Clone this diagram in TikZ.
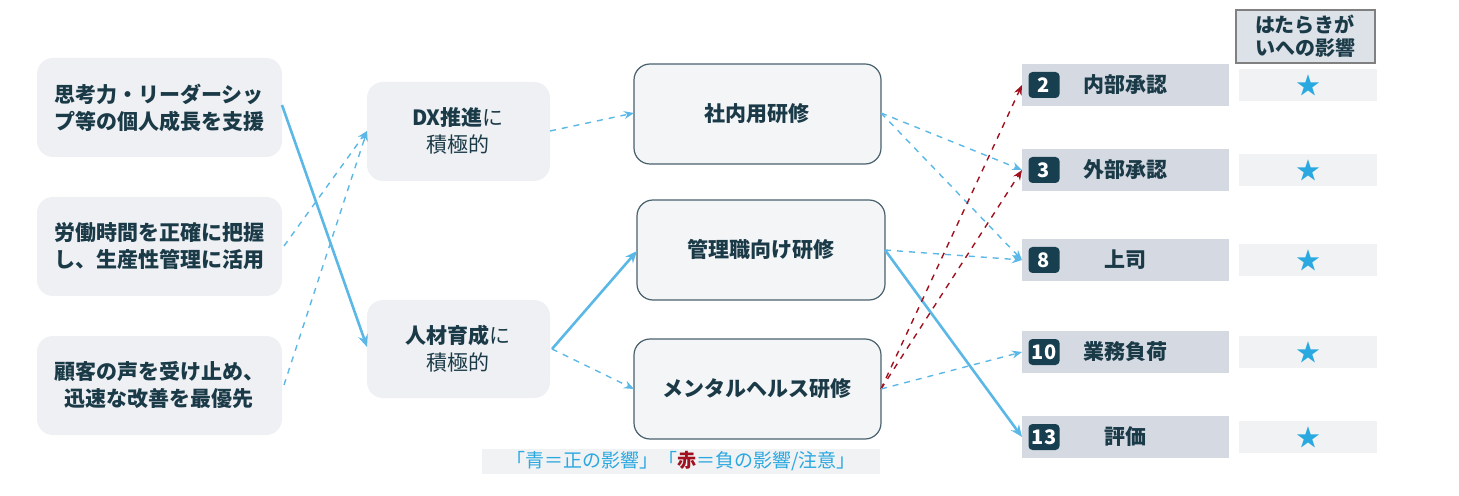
\documentclass[tikz,border=0pt]{standalone}
\usepackage{fontspec}
\setmainfont{Noto Sans CJK JP}
\usetikzlibrary{arrows.meta}
\definecolor{txt}{HTML}{1B3A48}
\definecolor{lbox}{HTML}{EEF0F3}
\definecolor{tbox}{HTML}{F4F5F7}
\definecolor{bar}{HTML}{D5DAE2}
\definecolor{badge}{HTML}{173F50}
\definecolor{sbox}{HTML}{F0F2F4}
\definecolor{blu}{HTML}{5BB8E6}
\definecolor{star}{HTML}{2AA8E0}
\definecolor{rd}{HTML}{A0101E}
\begin{document}
\begin{tikzpicture}[x=0.5pt,y=-0.5pt,
  lb/.style={fill=lbox,rounded corners=8pt,inner sep=0},
  tb/.style={fill=tbox,draw=txt!80,line width=0.6pt,rounded corners=8pt,inner sep=0},
  t/.style={text=txt,font=\bfseries\fontsize{10.5}{13.5}\selectfont,align=center},
  posarr/.style={draw=blu,line width=1.3pt,-{Stealth[length=6pt,width=5pt]}},
  posd/.style={draw=blu,line width=0.7pt,dashed,-{Stealth[length=5pt,width=4pt]}},
  neg/.style={draw=rd,line width=0.7pt,dashed,-{Stealth[length=5pt,width=4pt]}},
  barS/.style={fill=bar,inner sep=0},
  bdg/.style={fill=badge,rounded corners=2pt,text=white,font=\bfseries\fontsize{10}{12}\selectfont,inner sep=0,minimum height=13pt,minimum width=15.5pt},
  stb/.style={fill=sbox,inner sep=0}]
\useasboundingbox (0,0) rectangle (1459,496);
% left boxes
\path[lb] (37,58) rectangle (282,157); \node[t] (a1) at (159,108) {思考力・リーダーシッ\\プ等の個人成長を支援};
\path[lb] (37,197) rectangle (282,296); \node[t] (a2) at (159,246) {労働時間を正確に把握\\し、生産性管理に活用};
\path[lb] (37,336) rectangle (282,435); \node[t] (a3) at (159,385) {顧客の声を受け止め、\\迅速な改善を最優先};
\coordinate (a1r) at (282,105); \coordinate (a2r) at (284,246); \coordinate (a3r) at (284,385);
% mid
\path[lb] (367,82) rectangle (550,181); \node[t,font=\fontsize{10.5}{13.5}\selectfont] (b1) at (458,131) {\textbf{DX推進}に\\積極的};
\path[lb] (367,300) rectangle (550,398); \node[t,font=\fontsize{10.5}{13.5}\selectfont] (b2) at (458,349) {\textbf{人材育成}に\\積極的};
\coordinate (b1l) at (367,131); \coordinate (b1r) at (550,131);
\coordinate (b2l) at (367,347); \coordinate (b2r) at (552,349);
% trainings
\path[tb] (634,64) rectangle (881,164); \node[t] (c1) at (757,114) {社内用研修};
\path[tb] (637,200) rectangle (885,300); \node[t] (c2) at (761,250) {管理職向け研修};
\path[tb] (634,339) rectangle (881,439); \node[t] (c3) at (757,389) {メンタルヘルス研修};
\coordinate (c1l) at (634,113); \coordinate (c1r) at (881,113);
\coordinate (c2l) at (637,251); \coordinate (c2r) at (885,250);
\coordinate (c3l) at (634,389); \coordinate (c3r) at (881,389);
% header
\path[fill=bar!80,draw=gray,line width=0.8pt] (1236,10) rectangle (1375,63);
\node[t,font=\bfseries\fontsize{10}{11.5}\selectfont] (hd) at (1305,36) {はたらきが\\いへの影響};
% rows
\foreach \n/\lab/\y/\nm in {2/内部承認/85/r2,3/外部承認/170/r3,8/上司/260/r8,10/業務負荷/352/r10,13/評価/437/r13}{
  \path[barS] (1022,\y-21) rectangle (1229,\y+21);
  \node[bdg] (\nm b) at (1044,\y) {\n};
  \node[t] (\nm t) at (1125,\y) {\lab};
  \coordinate (\nm) at (1022,\y);
  \path[stb] (1239,\y-16) rectangle (1377,\y+16);
  \node[text=star,font=\fontsize{12}{12}\selectfont] (\nm s) at (1308,\y) {★};
}
% legend
\path[fill=sbox] (482,449) rectangle (880,474);
\node[font=\fontsize{9.5}{11}\selectfont,text=star] (lg) at (681,461) {「青＝正の影響」「\textcolor{rd}{\bfseries 赤}＝負の影響/注意」};
% connectors
\draw[posarr] (a1r) -- (b2l);
\draw[posd] (a2r) -- (b1l);
\draw[posd] (a3r) -- (b1l);
\draw[posd] (b1r) -- (c1l);
\draw[posarr] (b2r) -- (c2l);
\draw[posd] (b2r) -- (c3l);
\draw[posd] (c1r) -- (r3);
\draw[posd] (c1r) -- (r8);
\draw[posd] (c2r) -- (r8);
\draw[posarr] (c2r) -- (r13);
\draw[neg] (c3r) -- (r2);
\draw[neg] (c3r) -- (r3);
\draw[posd] (c3r) -- (r10);
\end{tikzpicture}
\end{document}
